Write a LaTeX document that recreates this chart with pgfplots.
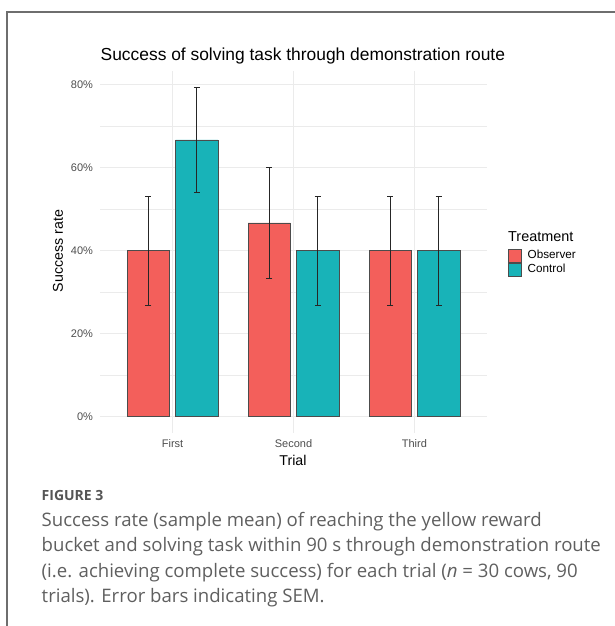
\documentclass[border=0pt]{standalone}
\usepackage{pgfplots}
\usepackage{pgfplotstable}
\pgfplotsset{compat=1.18}
\usepackage{fontspec}
\setmainfont{Liberation Sans}
\newfontfamily\capfont{Open Sans}
\definecolor{obs}{HTML}{F35F5B}
\definecolor{ctl}{HTML}{18B3B8}
\definecolor{tickgray}{HTML}{4D4D4D}
\definecolor{gridgray}{HTML}{EBEBEB}
\definecolor{capgray}{HTML}{5F5F5F}
\definecolor{framegray}{HTML}{6E6E6E}

\pgfplotstableread{
x obs obserr ctl ctlerr
0 40.00 13.09 66.67 12.60
1 46.67 13.33 40.00 13.09
2 40.00 13.09 40.00 13.09
}\datatable

\begin{document}
\begin{tikzpicture}[x=1pt,y=1pt]
\path[use as bounding box] (0,0) rectangle (614,-626);
\draw[framegray, line width=1.2pt] (7,-640) -- (7,-12) -- (630,-12);
\begin{axis}[
  at={(100pt,-433pt)}, anchor=south west,
  width=387pt, height=362pt, scale only axis,
  xmin=-0.6, xmax=2.6, ymin=-3.97, ymax=83.3,
  xtick={0,1,2}, xticklabels={First,Second,Third},
  ytick={0,20,40,60,80}, minor ytick={10,30,50,70},
  yticklabel={\pgfmathprintnumber{\tick}\%},
  /pgf/number format/assume math mode=true,
  grid=both,
  major grid style={gridgray, line width=1.1pt},
  minor grid style={gridgray, line width=0.55pt},
  axis line style={draw=none},
  major tick length=0pt, minor tick length=0pt,
  tick label style={font=\fontsize{11}{13}\selectfont, text=tickgray},
  xticklabel style={yshift=-2.5pt},
  yticklabel style={xshift=-3.5pt},
  legend image code/.code={\draw[#1, line width=0.6pt] (0pt,-6.5pt) rectangle (13pt,6.5pt);},
  legend style={at={(1.054,0.47)}, anchor=west, draw=none, fill=none,
    row sep=0pt, column sep=6pt, inner sep=0pt, font=\fontsize{11.7}{13}\selectfont,
    nodes={inner sep=0pt, text height=9pt, text depth=4pt}},
  legend cell align=left,
]
\addplot[ybar, bar width=0.35, bar shift=0pt, fill=obs, draw=black!70, line width=0.5pt,
  error bars/.cd, y dir=both, y explicit,
  error bar style={black!85, line width=0.7pt},
  error mark options={rotate=90, mark size=3pt, line width=0.7pt, black!85}]
  table[x expr=\thisrow{x}-0.2, y=obs, y error=obserr]{\datatable};
\addlegendentry{Observer}
\addplot[ybar, bar width=0.35, bar shift=0pt, fill=ctl, draw=black!70, line width=0.5pt,
  error bars/.cd, y dir=both, y explicit,
  error bar style={black!85, line width=0.7pt},
  error mark options={rotate=90, mark size=3pt, line width=0.7pt, black!85}]
  table[x expr=\thisrow{x}+0.2, y=ctl, y error=ctlerr]{\datatable};
\addlegendentry{Control}
\end{axis}
\node[anchor=base west, inner sep=0pt, font=\fontsize{17.4}{20}\selectfont] at (100.5,-60) {Success of solving task through demonstration route};
\node[rotate=90, inner sep=0pt, font=\fontsize{14.2}{16}\selectfont] at (58,-251) {Success rate};
\node[inner sep=0pt, font=\fontsize{14.2}{16}\selectfont] at (293,-460) {Trial};
\node[anchor=base west, inner sep=0pt, font=\fontsize{14.4}{16}\selectfont] at (508,-241) {Treatment};
\node[anchor=base west, inner sep=0pt, text=capgray!90!black, font=\capfont\bfseries\fontsize{14}{16}\selectfont] at (41.5,-500) {FIGURE 3};
\node[anchor=base west, inner sep=0pt, text=capgray, font=\capfont\fontsize{18.6}{22}\selectfont] at (41.5,-526) {Success rate (sample mean) of reaching the yellow reward};
\node[anchor=base west, inner sep=0pt, text=capgray, font=\capfont\fontsize{18.6}{22}\selectfont] at (41.5,-551.5) {bucket and solving task within 90 s through demonstration route};
\node[anchor=base west, inner sep=0pt, text=capgray, font=\capfont\fontsize{18.6}{22}\selectfont] at (41.5,-577) {(i.e. achieving complete success) for each trial ({\itshape n} = 30 cows, 90};
\node[anchor=base west, inner sep=0pt, text=capgray, font=\capfont\fontsize{18.6}{22}\selectfont] at (41.5,-602.5) {trials). Error bars indicating SEM.};
\end{tikzpicture}
\end{document}
